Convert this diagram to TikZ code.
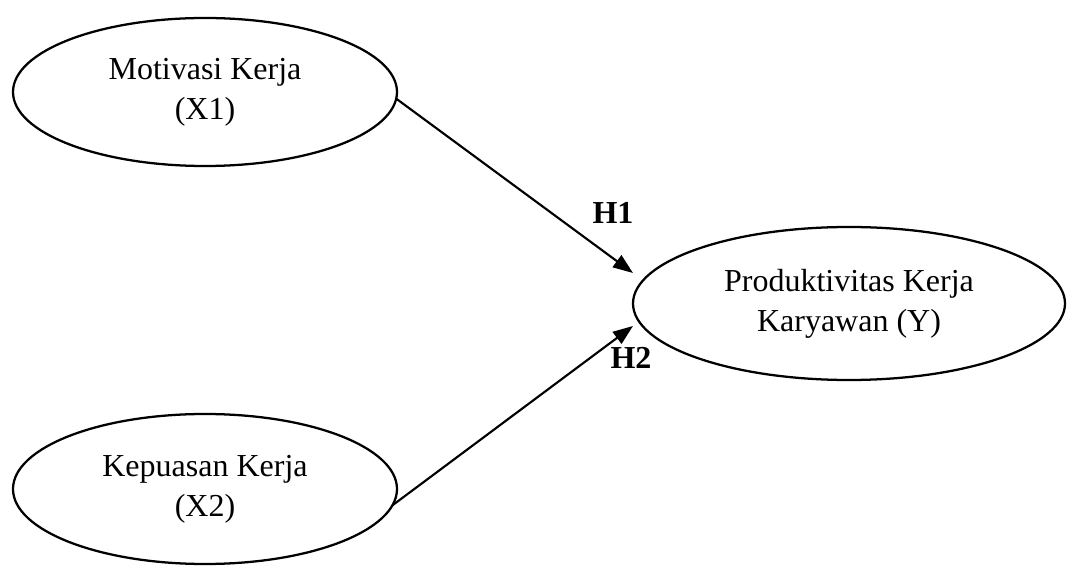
\documentclass[tikz,border=0pt]{standalone}
\usepackage{fontspec}
\setmainfont{Liberation Serif}
\usetikzlibrary{shapes.geometric,arrows.meta}
\begin{document}
\begin{tikzpicture}[x=0.75pt,y=-0.75pt,
  var/.style={ellipse,draw,line width=1.7pt,inner sep=0pt,outer sep=0pt,align=center,
    font=\fontsize{24}{30}\selectfont},
  hyp/.style={font=\fontsize{24}{30}\selectfont\bfseries,inner sep=0pt},
  link/.style={line width=1.6pt,-{Triangle[length=15pt,width=11pt]}}]
\useasboundingbox (0,0) rectangle (1067,566);
\node[var,minimum width=288pt,minimum height=111pt] (m) at (205,92) {Motivasi Kerja\\(X1)};
\node[var,minimum width=288pt,minimum height=112.5pt] (k) at (205,489) {Kepuasan Kerja\\(X2)};
\node[var,minimum width=324pt,minimum height=114.75pt] (p) at (849,303.5) {Produktivitas Kerja\\Karyawan (Y)};
\coordinate (t1) at (633,273);
\coordinate (t2) at (633,326);
\draw[link] (m.-2) -- (t1);
\draw[link] (k.-5) -- (t2);
\node[hyp] (h1) at (613,213) {H1};
\node[hyp] (h2) at (631,358) {H2};
\end{tikzpicture}
\end{document}
